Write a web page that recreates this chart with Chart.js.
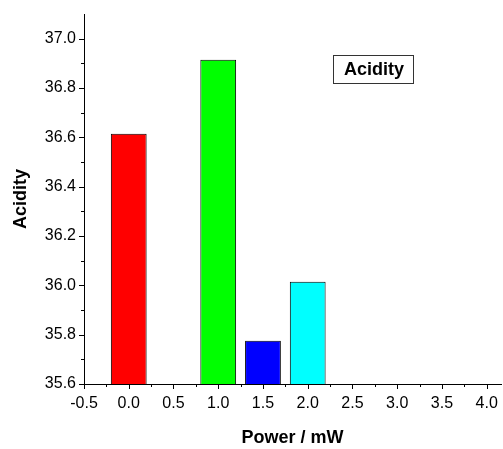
<!DOCTYPE html>
<html>
<head>
<meta charset="utf-8">
<script src="https://cdn.jsdelivr.net/npm/chart.js@4/dist/chart.umd.min.js"></script>
<style>
  html, body { margin: 0; padding: 0; background: #fff; }
  #wrap { width: 503px; height: 449px; }
</style>
</head>
<body>
<div id="wrap"><canvas id="chart"></canvas></div>
<script>
// ─── Data ─────────────────────────────────────────────────────
const powers = [0.0, 1.0, 1.5, 2.0];
const acidity = [36.615, 36.915, 35.775, 36.015];
const barColors = ['#ff0000', '#00ff00', '#0000ff', '#00ffff'];
const xTicks = [-0.5, 0.0, 0.5, 1.0, 1.5, 2.0, 2.5, 3.0, 3.5, 4.0];
const yTicks = [35.6, 35.8, 36.0, 36.2, 36.4, 36.6, 36.8, 37.0];

const FONT = 'Arial, "Liberation Sans", sans-serif';

// ─── Origin-style tick marks (major + minor, outward) ─────────
const tickMarks = {
  id: 'tickMarks',
  afterDraw(chart) {
    const ctx = chart.ctx;
    const xs = chart.scales.x, ys = chart.scales.y;
    ctx.save();
    ctx.strokeStyle = '#000';
    ctx.lineWidth = 1;
    ctx.beginPath();
    // x axis: major every 0.5, minor between
    for (let v = xs.min; v <= xs.max + 1e-9; v += 0.25) {
      const major = Math.abs(Math.round(v * 2) - v * 2) < 1e-6;
      const px = Math.round(xs.getPixelForValue(v)) + 0.5;
      const y0 = xs.top;
      ctx.moveTo(px, y0);
      ctx.lineTo(px, y0 + (major ? 5 : 3));
    }
    // y axis: major every 0.2, minor 0.1
    for (let i = 0; i <= 14; i++) {
      const v = ys.min + i * 0.1;
      const major = i % 2 === 0;
      const py = Math.round(ys.getPixelForValue(v)) + 0.5;
      const x0 = ys.right;
      ctx.moveTo(x0, py);
      ctx.lineTo(x0 - (major ? 5 : 3), py);
    }
    ctx.stroke();
    ctx.restore();
  }
};

// ─── Legend box ("Acidity") ───────────────────────────────────
const labelBox = {
  id: 'labelBox',
  afterDraw(chart) {
    const ctx = chart.ctx;
    ctx.save();
    ctx.strokeStyle = '#333';
    ctx.lineWidth = 1;
    ctx.strokeRect(333.5, 55.5, 80, 28);
    ctx.fillStyle = '#000';
    ctx.font = 'bold 18px ' + FONT;
    ctx.textAlign = 'center';
    ctx.textBaseline = 'middle';
    ctx.fillText('Acidity', 374, 70);
    ctx.restore();
  }
};

new Chart(document.getElementById('chart'), {
  type: 'bar',
  data: {
    datasets: [{
      label: 'Acidity',
      data: powers.map((p, i) => ({ x: p, y: acidity[i] })),
      backgroundColor: barColors,
      borderColor: '#000',
      borderWidth: 1,
      borderSkipped: false,
      barPercentage: 0.8,
      categoryPercentage: 1.0
    }]
  },
  options: {
    responsive: true,
    maintainAspectRatio: false,
    animation: false,
    layout: { padding: { top: 14, right: 2, left: 0, bottom: 0 } },
    plugins: {
      legend: { display: false },
      tooltip: { enabled: false }
    },
    scales: {
      x: {
        type: 'linear',
        min: -0.5,
        max: 4.16,
        offset: false,
        afterBuildTicks: s => { s.ticks = xTicks.map(v => ({ value: v })); },
        afterFit: s => { s.height = 65; s.paddingLeft = 0; s.paddingRight = 0; },
        grid: { display: true, drawOnChartArea: false, drawTicks: false },
        border: { display: true, color: '#000', width: 1 },
        ticks: {
          color: '#000',
          font: { family: FONT, size: 16 },
          padding: 10,
          maxRotation: 0,
          callback: v => v.toFixed(1)
        },
        title: {
          display: true,
          text: 'Power / mW',
          color: '#000',
          font: { family: FONT, size: 18, weight: 'bold' },
          padding: { top: 0, bottom: 0 }
        }
      },
      y: {
        min: 35.6,
        max: 37.1,
        afterBuildTicks: s => { s.ticks = yTicks.map(v => ({ value: v })); },
        afterFit: s => { s.width = 84; s.paddingTop = 0; s.paddingBottom = 0; },
        grid: { display: true, drawOnChartArea: false, drawTicks: false },
        border: { display: true, color: '#000', width: 1 },
        ticks: {
          color: '#000',
          font: { family: FONT, size: 16 },
          padding: 8,
          callback: v => v.toFixed(1)
        },
        title: {
          display: true,
          text: 'Acidity',
          color: '#000',
          font: { family: FONT, size: 18, weight: 'bold' },
          padding: { top: 10, bottom: 0 }
        }
      }
    }
  },
  plugins: [tickMarks, labelBox]
});
</script>
</body>
</html>
